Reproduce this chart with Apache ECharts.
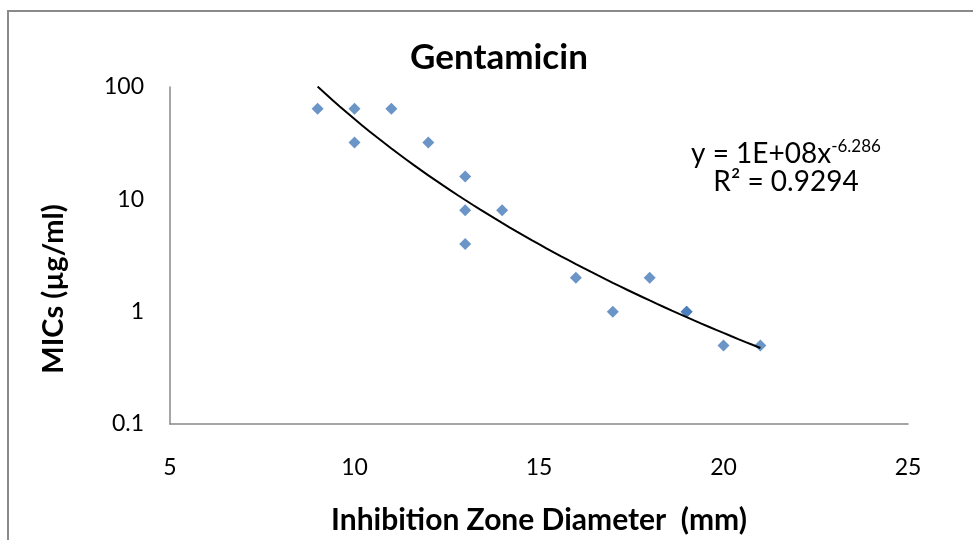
<!DOCTYPE html>
<html>
<head>
<meta charset="utf-8">
<script src="https://cdn.jsdelivr.net/npm/echarts@6/dist/echarts.min.js"></script>
<style>
html,body{margin:0;padding:0;background:#fff;}
#chart{width:973px;height:540px;}
</style>
</head>
<body>
<div id="chart"></div>
<script>
// Data
var zoneDiameter = [9, 10, 10, 11, 12, 13, 13, 13, 14, 16, 17, 18, 19, 19, 20, 21];
var micValues    = [64, 64, 32, 64, 32, 16, 8, 4, 8, 2, 1, 2, 1, 1, 0.5, 0.5];
var xTicks = [5, 10, 15, 20, 25];
var yTicks = [0.1, 1, 10, 100];
var chartTitle = 'Gentamicin';
var xTitle = 'Inhibition Zone Diameter  (mm)';
var yTitle = 'MICs (µg/ml)';
var equationMain = 'y = 1E+08x';
var equationExp = '-6.286';
var rSquaredText = 'R² = 0.9294';

// Power trendline fitted from the data (least squares on ln x, ln y)
function powerFit(xs, ys) {
  var n = xs.length, sx = 0, sy = 0, sxx = 0, sxy = 0;
  for (var i = 0; i < n; i++) {
    var lx = Math.log(xs[i]), ly = Math.log(ys[i]);
    sx += lx; sy += ly; sxx += lx * lx; sxy += lx * ly;
  }
  var b = (n * sxy - sx * sy) / (n * sxx - sx * sx);
  var a = Math.exp((sy - b * sx) / n);
  return {a: a, b: b};
}
var fit = powerFit(zoneDiameter, micValues);
var xMin = Math.min.apply(null, zoneDiameter), xMax = Math.max.apply(null, zoneDiameter);
var trend = [];
for (var k = 0; k <= 60; k++) {
  var xv = xMin + (xMax - xMin) * k / 60;
  trend.push([xv, fit.a * Math.pow(xv, fit.b)]);
}
var points = zoneDiameter.map(function (x, i) { return [x, micValues[i]]; });

var FONT = 'Lato';
var chart = echarts.init(document.getElementById('chart'), null, {renderer: 'canvas'});
chart.setOption({
  backgroundColor: '#ffffff',
  animation: false,
  title: {
    text: chartTitle,
    left: 405,
    top: 35,
    textStyle: {fontFamily: FONT, fontWeight: 'bold', fontSize: 35, color: '#000'}
  },
  grid: {left: 170, top: 87, right: 65, bottom: 115, containLabel: false},
  xAxis: {
    type: 'value',
    min: xTicks[0], max: xTicks[xTicks.length - 1], interval: 5,
    axisLine: {show: true, lineStyle: {color: '#888888', width: 1.5}},
    axisTick: {show: false},
    splitLine: {show: false},
    axisLabel: {margin: 32, fontFamily: FONT, fontSize: 23, color: '#000'},
    name: xTitle,
    nameLocation: 'middle',
    nameGap: 81,
    nameTextStyle: {fontFamily: FONT, fontWeight: 'bold', fontSize: 30, color: '#000'}
  },
  yAxis: {
    type: 'log', logBase: 10,
    min: yTicks[0], max: yTicks[yTicks.length - 1],
    axisLine: {show: true, lineStyle: {color: '#888888', width: 1.5}},
    axisTick: {show: false},
    splitLine: {show: false},
    axisLabel: {margin: 26, fontFamily: FONT, fontSize: 23, color: '#000',
      formatter: function (v) { return String(+v.toPrecision(3)); }}
  },
  graphic: [
    {type: 'rect', z: 100, silent: true,
     shape: {x: 8, y: 11, width: 1100, height: 700},
     style: {fill: null, stroke: '#8a8a8a', lineWidth: 2}},
    {type: 'text', z: 100, x: 54, y: 289, rotation: Math.PI / 2,
     style: {text: yTitle, fontFamily: FONT, fontWeight: 'bold', fontSize: 29, fill: '#000',
             align: 'center', verticalAlign: 'middle'}},
    {type: 'text', z: 100, x: 786, y: 154,
     style: {
       text: '{m|' + equationMain + '}{s|' + equationExp + '}',
       align: 'center', verticalAlign: 'middle',
       rich: {
         m: {fontFamily: FONT, fontSize: 28, fill: '#000', lineHeight: 32},
         s: {fontFamily: FONT, fontSize: 17, fill: '#000', lineHeight: 17, verticalAlign: 'top'}
       }
     }},
    {type: 'text', z: 100, x: 786, y: 182,
     style: {text: rSquaredText, fontFamily: FONT, fontSize: 28, fill: '#000',
             align: 'center', verticalAlign: 'middle'}}
  ],
  series: [
    {type: 'scatter', data: points, symbol: 'diamond', symbolSize: 12,
     itemStyle: {color: '#4679b9'}, z: 3},
    {type: 'line', data: trend, showSymbol: false, symbol: 'none', smooth: false,
     lineStyle: {color: '#000', width: 2}, z: 4}
  ]
});
</script>
</body>
</html>
